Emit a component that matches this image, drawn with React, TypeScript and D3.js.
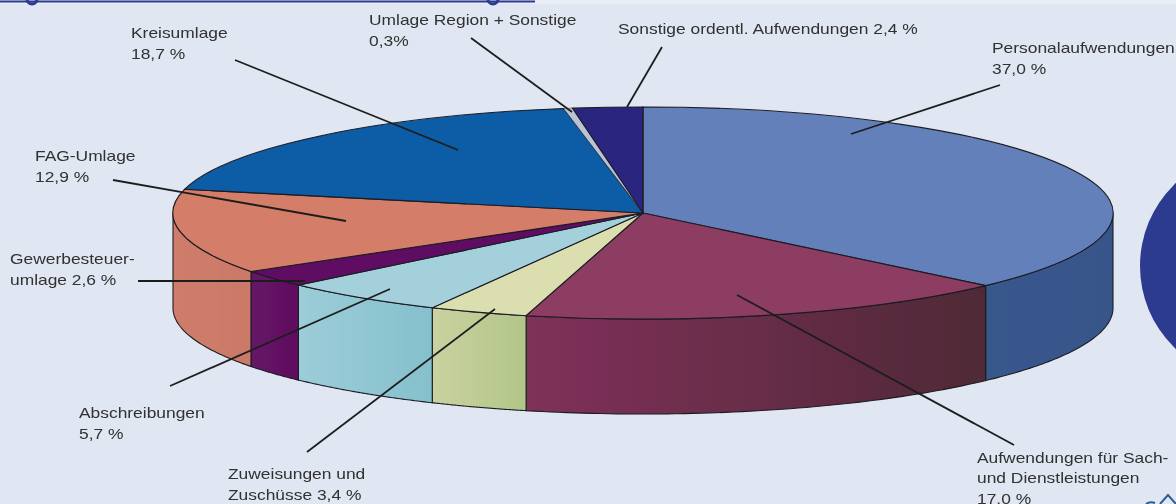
import * as d3 from 'd3';

const categories = [
  'Personalaufwendungen',
  'Aufwendungen für Sach- und Dienstleistungen',
  'Zuweisungen und Zuschüsse',
  'Abschreibungen',
  'Gewerbesteuerumlage',
  'FAG-Umlage',
  'Kreisumlage',
  'Umlage Region + Sonstige',
  'Sonstige ordentl. Aufwendungen',
];
const shares = [37.0, 17.0, 3.4, 5.7, 2.6, 12.9, 18.7, 0.3, 2.4];

const topColors = ['#6480bb', '#8d3c62', '#dbdfb0', '#a4d0dc', '#5e0f62', '#d47d68', '#0a5ba6', '#b9c3d6', '#2a2580'];
const wallFrom = ['#37588c', '#80305a', '#c9d2a0', '#9ccdd8', '#651366', '#cf7d6b', '#0a5ba6', '#b9c3d6', '#2a2580'];
const wallTo = ['#37558a', '#4f2a36', '#b2c588', '#85c0cd', '#5f1060', '#cb7967', '#0a5ba6', '#b9c3d6', '#2a2580'];

// label text, one entry per line, and leader line: [x, baseline y of first line, x1, y1, x2, y2]
const labelLines = [
  ['Personalaufwendungen', '37,0 %'],
  ['Aufwendungen für Sach-', 'und Dienstleistungen', '17,0 %'],
  ['Zuweisungen und', 'Zuschüsse 3,4 %'],
  ['Abschreibungen', '5,7 %'],
  ['Gewerbesteuer-', 'umlage 2,6 %'],
  ['FAG-Umlage', '12,9 %'],
  ['Kreisumlage', '18,7 %'],
  ['Umlage Region + Sonstige', '0,3%'],
  ['Sonstige ordentl. Aufwendungen 2,4 %'],
];
const labelAnchors = [
  [992, 53, 1000, 85, 851, 134],
  [977, 462.5, 1014, 445, 737, 295],
  [228, 479, 307, 452, 495, 309],
  [79, 418, 170, 386, 390, 289],
  [10, 264, 138, 281, 305, 281],
  [35, 161, 113, 180, 346, 221],
  [131, 38, 235, 60, 458, 150],
  [369, 25, 471, 38, 572, 112],
  [618, 34, 662, 47, 627, 107],
];

const WIDTH = 1176;
const HEIGHT = 504;
const CX = 643;
const CY = 213;
const RX = 470;
const RY = 106;
const DEPTH = 95;

const x = d3.scaleLinear().domain([-1, 1]).range([CX - RX, CX + RX]);
const y = d3.scaleLinear().domain([-1, 1]).range([CY - RY, CY + RY]);

const slices = d3.pie<number>().sort(null).value((d) => d)(shares);
const unitArc = d3.arc<d3.PieArcDatum<number>>().innerRadius(0).outerRadius(1);

// Front wall of a slice, only the part facing the viewer (90deg to 270deg)
function wallPath(start: number, end: number) {
  const a0 = Math.max(start, Math.PI / 2);
  const a1 = Math.min(end, (3 * Math.PI) / 2);
  if (a1 <= a0) return null;
  const steps = d3.range(0, 61).map((i) => a0 + ((a1 - a0) * i) / 60);
  const line = d3.line<number>().x((a) => x(Math.sin(a))).y((a) => y(-Math.cos(a)));
  const upper = line(steps) as string;
  const lower = d3
    .line<number>()
    .x((a) => x(Math.sin(a)))
    .y((a) => y(-Math.cos(a)) + DEPTH)(steps.slice().reverse()) as string;
  return `${upper}L${lower.slice(1)}Z`;
}

export default function App() {
  return (
    <svg
      width={WIDTH}
      height={HEIGHT}
      viewBox={`0 0 ${WIDTH} ${HEIGHT}`}
      style={{ position: 'absolute', left: 0, top: 0, display: 'block', background: '#e1e7f2' }}
      role="img"
      aria-label={categories.join(', ')}
    >
      <defs>
        {slices.map((_, i) => (
          <linearGradient key={i} id={`wall${i}`} x1="0" x2="1" y1="0" y2="0">
            <stop offset="0%" stopColor={wallFrom[i]} />
            <stop offset="100%" stopColor={wallTo[i]} />
          </linearGradient>
        ))}
        <filter id="soft" x="-5%" y="-5%" width="110%" height="110%">
          <feGaussianBlur stdDeviation="0.45" />
        </filter>
      </defs>

      {/* page decoration cut off by the crop */}
      <rect x={0} y={0} width={WIDTH} height={4} fill="#e9edf5" />
      <line x1={0} y1={1.5} x2={535} y2={1.5} stroke="#2c3a90" strokeWidth={2} />
      <circle cx={32} cy={-1} r={5} fill="none" stroke="#2c3a90" strokeWidth={3} />
      <circle cx={493} cy={-1} r={5} fill="none" stroke="#2c3a90" strokeWidth={3} />
      <circle cx={1254} cy={266} r={114} fill="#2c3a90" />
      <path d="M1146 504Q1150 501 1155 503M1160 504L1168 495L1176 504" fill="none" stroke="#2c5c96" strokeWidth={2} />

      <g filter="url(#soft)">
        {slices.map((s, i) => {
          const d = wallPath(s.startAngle, s.endAngle);
          return d ? <path key={i} d={d} fill={`url(#wall${i})`} stroke="#1c1c24" strokeWidth={1.1} /> : null;
        })}
        <g transform={`translate(${CX},${CY}) scale(${RX},${RY})`}>
          {slices.map((s, i) => (
            <path
              key={i}
              d={unitArc(s) as string}
              fill={topColors[i]}
              stroke="#1c1c24"
              strokeWidth={i === 7 ? 0.4 : 1.1}
              vectorEffect="non-scaling-stroke"
            />
          ))}
        </g>
        {labelAnchors.map((a, i) => (
          <line key={i} x1={a[2]} y1={a[3]} x2={a[4]} y2={a[5]} stroke="#1f1f1f" strokeWidth={1.8} />
        ))}
        {labelLines.map((lines, i) =>
          lines.map((t, j) => (
            <text
              key={`${i}-${j}`}
              transform={`translate(${labelAnchors[i][0]},${labelAnchors[i][1] + j * 20.5}) scale(1.16,1)`}
              fontFamily="'Liberation Sans', sans-serif"
              fontSize={15}
              fill="#303030"
            >
              {t}
            </text>
          )),
        )}
      </g>
    </svg>
  );
}
